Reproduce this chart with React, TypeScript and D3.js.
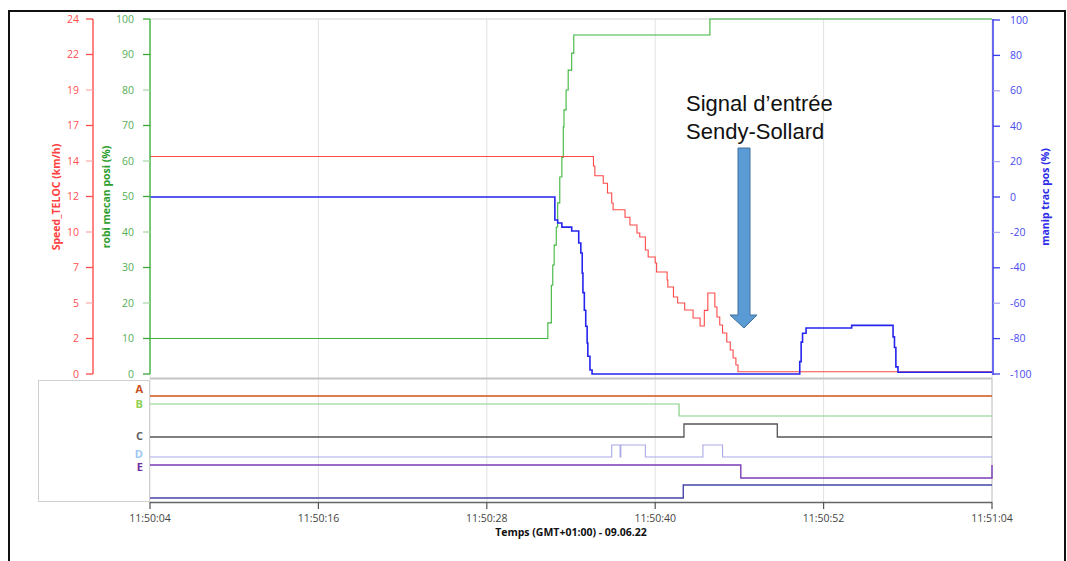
import React from "react";
import * as d3 from "d3";

// time offsets in seconds after 11:50:04 (09.06.22)
const speedSteps: [number, number][] = [
  [0, 14.7], [31.6, 14.06], [31.7, 13.4], [32.3, 12.9], [32.6, 12.24], [32.9, 11.56],
  [33.0, 11.1], [33.85, 10.6], [34.2, 10.07], [34.7, 9.53], [34.9, 9.26], [35.3, 8.38],
  [35.5, 7.91], [36.0, 7.5], [36.1, 6.9], [36.85, 6.35], [36.9, 5.88], [37.3, 5.21],
  [37.6, 4.8], [38.1, 4.33], [38.7, 3.79], [39.2, 3.25], [39.5, 4.3], [39.75, 5.48],
  [40.25, 4.53], [40.4, 3.85], [40.6, 3.31], [40.8, 2.77], [41.1, 2.16], [41.35, 1.62],
  [41.55, 1.08], [41.75, 0.61], [41.9, 0.15], [60, 0.15],
];

const robiSteps: [number, number][] = [
  [0, 10], [28.35, 14.4], [28.6, 25], [28.7, 30.7], [28.8, 36.3], [28.95, 41.4],
  [29.05, 48.2], [29.2, 55.5], [29.35, 61], [29.45, 69.6], [29.5, 74.4], [29.65, 80],
  [29.8, 85.6], [30.05, 90.4], [30.2, 95.5], [39.9, 100], [60, 100],
];

const manipSteps: [number, number][] = [
  [0, 0], [28.85, -13], [29.05, -14.7], [29.35, -17], [30.05, -19.2], [30.55, -26],
  [30.7, -31.6], [30.8, -43], [30.85, -54], [30.95, -64], [31.05, -73], [31.15, -82.5],
  [31.2, -90], [31.35, -97.7], [31.5, -100], [46.3, -93], [46.4, -82], [46.5, -77],
  [46.75, -74], [50.0, -72.5], [52.95, -79], [53.05, -85], [53.15, -96], [53.3, -99],
  [60, -99],
];

// digital signals (0 = low, 1 = high)
const sigA: [number, number][] = [[0, 1], [60, 1]];
const sigB: [number, number][] = [[0, 1], [37.7, 0], [60, 0]];
const sigC: [number, number][] = [[0, 0], [38.05, 1], [44.7, 0], [60, 0]];
const sigD: [number, number][] = [[0, 0], [32.9, 1], [33.5, 0], [33.55, 1], [35.3, 0], [39.4, 1], [40.8, 0], [60, 0]];
const sigE: [number, number][] = [[0, 1], [42.1, 0], [60, 1]];
const sigF: [number, number][] = [[0, 0], [38.0, 1], [60, 1]];

const signalNames = ["A", "B", "C", "D", "E"];
const timeTicks = [0, 12, 24, 36, 48, 60];
const speedTickLabels = ["0", "2", "5", "7", "10", "12", "14", "17", "19", "22", "24"];
const robiTicks = [0, 10, 20, 30, 40, 50, 60, 70, 80, 90, 100];
const manipTicks = [-100, -80, -60, -40, -20, 0, 20, 40, 60, 80, 100];

const T0 = new Date(2022, 5, 9, 11, 50, 4).getTime();
const toDate = (s: number) => new Date(T0 + s * 1000);

const L = 150, R = 992, TOP = 19, BOT = 374;
const font = "'Open Sans', 'Noto Sans', sans-serif";

export default function App() {
  const x = d3.scaleTime().domain([toDate(0), toDate(60)]).range([L, R]);
  const ySpeed = d3.scaleLinear().domain([0, 24]).range([BOT, TOP]);
  const yRobi = d3.scaleLinear().domain([0, 100]).range([BOT, TOP]);
  const yManip = d3.scaleLinear().domain([-100, 100]).range([BOT, TOP + 1]);
  const fmt = d3.timeFormat("%H:%M:%S");

  const mk = (y: d3.ScaleLinear<number, number>) =>
    d3.line<[number, number]>().x((d) => x(toDate(d[0]))).y((d) => y(d[1])).curve(d3.curveStepAfter);

  const lanes = [
    { data: sigA, low: 408, high: 396, color: "#d2521e", w: 1.3 },
    { data: sigB, low: 416, high: 404, color: "#86d086", w: 1.2 },
    { data: sigC, low: 437, high: 424, color: "#555555", w: 1.3 },
    { data: sigD, low: 457, high: 445, color: "#a9a9e6", w: 1.1 },
    { data: sigE, low: 478, high: 465, color: "#7a3db5", w: 1.4 },
    { data: sigF, low: 498, high: 485, color: "#4646a8", w: 1.4 },
  ];
  const labelPos = [
    { y: 393, color: "#c8501e" },
    { y: 408, color: "#8fd14f" },
    { y: 440, color: "#606060" },
    { y: 458, color: "#9fc5f0" },
    { y: 471, color: "#7030a0" },
  ];

  const isMinor = (i: number) => i === 2 || i === 4 || i === 6 || i === 8;

  return (
    <svg width={1067} height={561} style={{ position: "absolute", left: 0, top: 0, fontFamily: font }}>
      <rect x={0} y={0} width={1067} height={561} fill="#fff" />
      <rect x={9} y={11} width={1056} height={570} fill="none" stroke="#111" strokeWidth={2} />

      {/* grid */}
      {timeTicks.map((t) => (
        <line key={t} x1={x(toDate(t))} x2={x(toDate(t))} y1={TOP} y2={502} stroke="#e2e2e2" />
      ))}
      <line x1={L} x2={R} y1={TOP} y2={TOP} stroke="#cfcfcf" />
      <line x1={L} x2={R} y1={378.5} y2={378.5} stroke="#c4c4c4" strokeWidth={2} />
      <line x1={R} x2={R} y1={378} y2={502} stroke="#c8c8c8" />

      {/* left box of lower panel */}
      <rect x={38.5} y={380.5} width={111} height={121} fill="none" stroke="#d0d0d0" />
      {signalNames.map((n, i) => (
        <text key={n} x={143} y={labelPos[i].y} textAnchor="end" fontSize={11} fontWeight="bold" fill={labelPos[i].color}>{n}</text>
      ))}

      {/* digital lanes */}
      {lanes.map((ln, i) => {
        const y = d3.scaleLinear().domain([0, 1]).range([ln.low, ln.high]);
        return <path key={i} d={mk(y)(ln.data) || ""} fill="none" stroke={ln.color} strokeWidth={ln.w} />;
      })}

      {/* analog series */}
      <path d={mk(yRobi)(robiSteps) || ""} fill="none" stroke="#3db53d" strokeWidth={1.1} />
      <path d={mk(ySpeed)(speedSteps) || ""} fill="none" stroke="#ff4a4a" strokeWidth={1.1} />
      <path d={mk(yManip)(manipSteps) || ""} fill="none" stroke="#2525ee" strokeWidth={1.6} />

      {/* red axis */}
      <line x1={93} x2={93} y1={TOP} y2={BOT} stroke="#ff5a5a" strokeWidth={1.5} />
      {speedTickLabels.map((lab, i) => {
        const y = ySpeed(i * 2.4);
        return (
          <g key={lab}>
            <line x1={86} x2={93} y1={y} y2={y} stroke={isMinor(i) ? "#ffb0b0" : "#ff4a4a"} strokeWidth={1.3} />
            <text x={79} y={y + 3.5} textAnchor="end" fontSize={10.5} fill="#ff5050">{lab}</text>
          </g>
        );
      })}
      <text transform={`translate(60,197) rotate(-90)`} textAnchor="middle" fontSize={10.5} fontWeight="bold" fill="#ff4040">Speed_TELOC (km/h)</text>

      {/* green axis */}
      <line x1={L} x2={L} y1={TOP} y2={BOT} stroke="#4cb84c" strokeWidth={1.5} />
      {robiTicks.map((v, i) => (
        <g key={v}>
          <line x1={143} x2={L} y1={yRobi(v)} y2={yRobi(v)} stroke={isMinor(i) ? "#a8dca8" : "#3aa83a"} strokeWidth={1.3} />
          <text x={134} y={yRobi(v) + 3.5} textAnchor="end" fontSize={10.5} fill="#55b055">{v}</text>
        </g>
      ))}
      <text transform={`translate(110,197) rotate(-90)`} textAnchor="middle" fontSize={10.5} fontWeight="bold" fill="#2e9e2e">robi mecan posi (%)</text>

      {/* blue axis */}
      <line x1={R + 1} x2={R + 1} y1={TOP} y2={BOT + 1} stroke="#3a3aee" strokeWidth={1.5} />
      {manipTicks.map((v, i) => {
        const y = yManip(v);
        const j = 10 - i;
        return (
          <g key={v}>
            <line x1={R + 1} x2={R + 8} y1={y} y2={y} stroke={isMinor(j) ? "#a8a8f6" : "#3a3aee"} strokeWidth={1.3} />
            <text x={1010} y={y + 3.5} fontSize={10.5} fill="#4a4af0">{v}</text>
          </g>
        );
      })}
      <text transform={`translate(1049,197) rotate(-90)`} textAnchor="middle" fontSize={10.5} fontWeight="bold" fill="#2a2ae8">manip trac pos (%)</text>

      {/* x axis */}
      <line x1={L} x2={R} y1={502.5} y2={502.5} stroke="#666" strokeWidth={1.5} />
      {timeTicks.map((t) => {
        const xx = x(toDate(t));
        return (
          <g key={t}>
            <line x1={xx} x2={xx} y1={502} y2={509} stroke="#555" strokeWidth={1.2} />
            <text x={xx} y={522} textAnchor="middle" fontSize={10.5} fill="#444">{fmt(toDate(t))}</text>
          </g>
        );
      })}
      <text x={571} y={536} textAnchor="middle" fontSize={10.5} fontWeight="bold" fill="#111">Temps (GMT+01:00) - 09.06.22</text>

      {/* annotation */}
      <text x={686} y={111} fontSize={22} fontFamily="'Liberation Sans', Arial, sans-serif" fill="#111">Signal d’entrée</text>
      <text x={686} y={139} fontSize={22} fontFamily="'Liberation Sans', Arial, sans-serif" fill="#111">Sendy-Sollard</text>
      <path d="M738,148 L750,148 L750,315 L757,315 L744,328 L730,315 L738,315 Z" fill="#5b9bd5" stroke="#41719c" strokeWidth={1} />
    </svg>
  );
}
